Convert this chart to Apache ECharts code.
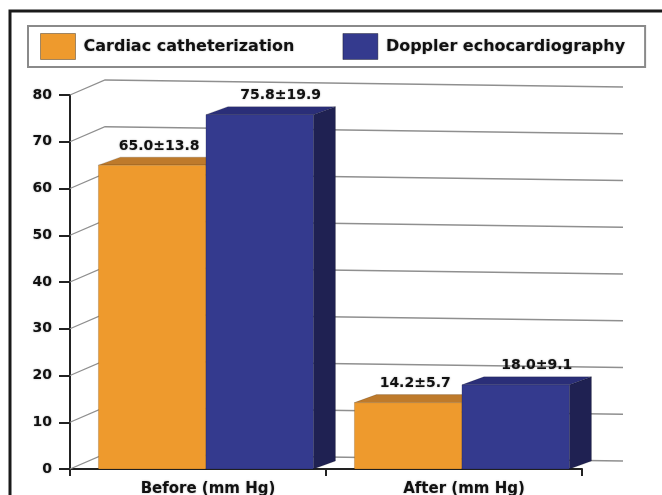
<!DOCTYPE html>
<html>
<head>
<meta charset="utf-8">
<script src="https://cdn.jsdelivr.net/npm/echarts@6/dist/echarts.min.js"></script>
<style>
  html, body { margin: 0; padding: 0; background: #fff; }
  #chart { width: 662px; height: 495px; }
</style>
</head>
<body>
<div id="chart"></div>
<script>
// Pressure gradient (mm Hg): mean and standard deviation per method
const categories = ['Before (mm Hg)', 'After (mm Hg)'];
const seriesNames = ['Cardiac catheterization', 'Doppler echocardiography'];
const cathMean = [65.0, 14.2];
const cathSd = [13.8, 5.7];
const dopplerMean = [75.8, 18.0];
const dopplerSd = [19.9, 9.1];
const yTicks = [0, 10, 20, 30, 40, 50, 60, 70, 80];

const FONT = '"DejaVu Sans", sans-serif';

// Face colours for the pseudo-3D columns: front, top, side
const palettes = [
  { front: '#EE9A2D', top: '#BE7A2B', side: '#A8661F' },
  { front: '#343A8E', top: '#2A2E78', side: '#1F2152' }
];

// Column geometry relative to the category band
const BAR_FRAC = 0.42;     // width of one column as a share of the band
const GROUP_SHIFT = 0.031; // columns sit slightly right of band centre
const DEPTH_X = 22, DEPTH_Y = -8;
// Back wall offset of the grid lines (left end and right end)
const WALL_LX = 35, WALL_LY = -15, WALL_RX = 41, WALL_RY = -8;

function columnRenderer(idx, labelNudge) {
  const pal = palettes[idx];
  return function (params, api) {
    const cat = api.value(0), val = api.value(1), sd = api.value(2);
    const base = api.coord([cat, 0]);
    const top = api.coord([cat, val]);
    const band = api.size([1, 0])[0];
    const w = band * BAR_FRAC;
    const x0 = base[0] + band * GROUP_SHIFT - w + idx * w;
    const x1 = x0 + w;
    const yb = base[1], yt = top[1];
    const edge = 'rgba(0,0,0,0.25)';
    return {
      type: 'group',
      children: [
        { type: 'polygon', shape: { points: [[x1, yt], [x1 + DEPTH_X, yt + DEPTH_Y], [x1 + DEPTH_X, yb + DEPTH_Y], [x1, yb]] },
          style: { fill: pal.side, stroke: edge, lineWidth: 0.6 } },
        { type: 'polygon', shape: { points: [[x0, yt], [x1, yt], [x1 + DEPTH_X, yt + DEPTH_Y], [x0 + DEPTH_X, yt + DEPTH_Y]] },
          style: { fill: pal.top, stroke: edge, lineWidth: 0.6 } },
        { type: 'rect', shape: { x: x0, y: yt, width: w, height: yb - yt },
          style: { fill: pal.front, stroke: edge, lineWidth: 0.6 } },
        { type: 'text',
          style: {
            text: val.toFixed(1) + '±' + sd.toFixed(1),
            x: (x0 + x1) / 2 + labelNudge, y: yt - 12,
            align: 'center', verticalAlign: 'bottom',
            fontFamily: FONT, fontWeight: 'bold', fontSize: 14, fill: '#111',
            textShadowColor: 'rgba(0,0,0,0.3)', textShadowBlur: 2
          } }
      ]
    };
  };
}

const chart = echarts.init(document.getElementById('chart'), null, { renderer: 'canvas' });

chart.setOption({
  backgroundColor: '#ffffff',
  animation: false,
  textStyle: { fontFamily: FONT },
  graphic: [
    { type: 'rect', shape: { x: 10, y: 11, width: 720, height: 600 },
      style: { fill: null, stroke: '#1a1a1a', lineWidth: 3 }, z: 100 }
  ],
  legend: {
    left: 28, top: 26,
    padding: [7, 20, 7, 12],
    borderColor: '#8a8a8a', borderWidth: 2,
    itemWidth: 35, itemHeight: 26, itemGap: 48,
    icon: 'rect',
    itemStyle: { borderColor: 'rgba(0,0,0,0.35)', borderWidth: 1 },
    textStyle: { fontFamily: FONT, fontWeight: 'bold', fontSize: 16, color: '#111',
      padding: [0, 0, 0, 3], textShadowColor: 'rgba(0,0,0,0.3)', textShadowBlur: 2 },
    data: seriesNames
  },
  grid: { left: 70, right: 80, top: 95, bottom: 26, containLabel: false, outerBoundsMode: 'none' },
  xAxis: {
    type: 'category',
    data: categories,
    boundaryGap: true,
    axisLine: { lineStyle: { color: '#222', width: 2 } },
    axisTick: { show: true, length: 7, lineStyle: { color: '#222', width: 2 } },
    axisLabel: { margin: 13, fontFamily: FONT, fontWeight: 'bold', fontSize: 15, color: '#111',
      padding: [0, 0, 0, 20], textShadowColor: 'rgba(0,0,0,0.3)', textShadowBlur: 2 },
    splitLine: { show: false }
  },
  yAxis: {
    type: 'value',
    min: 0, max: 80, interval: 10,
    axisLine: { show: true, lineStyle: { color: '#222', width: 2 } },
    axisTick: { show: true, length: 11, lineStyle: { color: '#222', width: 2 } },
    axisLabel: { margin: 18, fontFamily: FONT, fontWeight: 'bold', fontSize: 14, color: '#111',
      textShadowColor: 'rgba(0,0,0,0.3)', textShadowBlur: 2 },
    splitLine: { show: false }
  },
  series: [
    {
      // grid lines running back from the value axis along the rear wall
      type: 'custom',
      silent: true,
      z: 1,
      data: yTicks.map(v => [0, v]),
      encode: { x: 0, y: 1 },
      renderItem: function (params, api) {
        const cs = params.coordSys;
        const y = api.coord([0, api.value(1)])[1];
        const xl = cs.x, xr = cs.x + cs.width;
        return {
          type: 'polyline',
          shape: { points: [[xl, y], [xl + WALL_LX, y + WALL_LY], [xr + WALL_RX, y + WALL_RY]] },
          style: { stroke: '#8f8f8f', lineWidth: 1.3, fill: null }
        };
      }
    },
    {
      name: seriesNames[0],
      type: 'custom',
      z: 2,
      itemStyle: { color: palettes[0].front },
      data: cathMean.map((v, i) => [i, v, cathSd[i]]),
      encode: { x: 0, y: 1 },
      renderItem: columnRenderer(0, 7)
    },
    {
      name: seriesNames[1],
      type: 'custom',
      z: 3,
      itemStyle: { color: palettes[1].front },
      data: dopplerMean.map((v, i) => [i, v, dopplerSd[i]]),
      encode: { x: 0, y: 1 },
      renderItem: columnRenderer(1, 21)
    }
  ]
});
</script>
</body>
</html>
